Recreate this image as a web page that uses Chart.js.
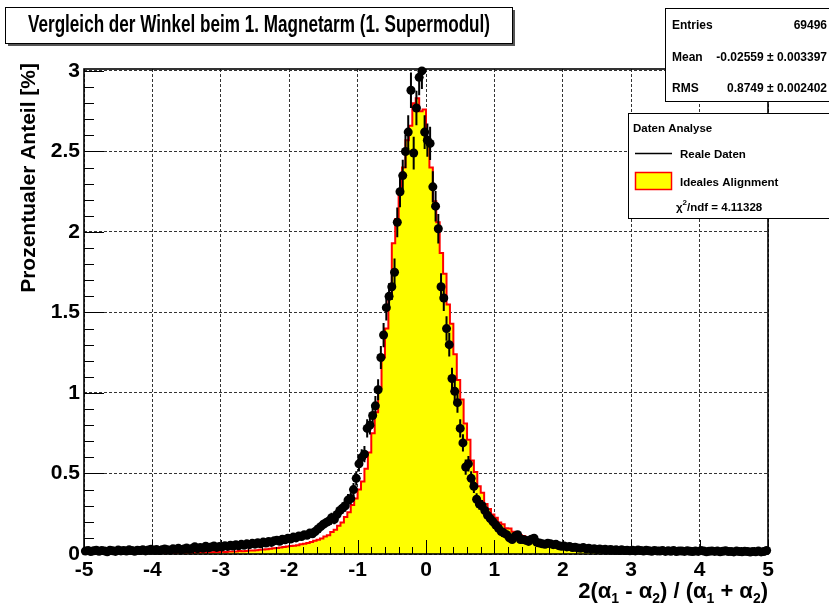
<!DOCTYPE html>
<html>
<head>
<meta charset="utf-8">
<script src="https://cdn.jsdelivr.net/npm/chart.js@4.4.0/dist/chart.umd.min.js"></script>
<style>
  html, body { margin: 0; padding: 0; background: #fff; }
  canvas { display: block; }
</style>
</head>
<body>
<canvas id="myChart" width="829" height="607"></canvas>
<script>
const FONT = '"Liberation Sans", Arial, sans-serif';

const xMin = -5, xMax = 5;
const xTicks = [-5, -4, -3, -2, -1, 0, 1, 2, 3, 4, 5];
const yTicks = [0, 0.5, 1, 1.5, 2, 2.5, 3];
const yMax = 3.012;

// simulated ("ideal alignment") histogram, 0.05 wide bins from -5 to 5, in percent
const idealBinWidth = 0.05;
const idealPct = [
  0.004,0.005,0.003,0.006,0.004,0.005,0.004,0.003,0.006,0.005,
  0.005,0.004,0.006,0.005,0.004,0.006,0.005,0.007,0.005,0.006,
  0.006,0.007,0.005,0.008,0.006,0.007,0.008,0.006,0.009,0.007,
  0.008,0.009,0.007,0.010,0.009,0.011,0.010,0.012,0.011,0.013,
  0.012,0.014,0.013,0.015,0.016,0.015,0.018,0.017,0.019,0.021,
  0.022,0.024,0.026,0.028,0.030,0.033,0.036,0.038,0.041,0.044,
  0.046,0.049,0.052,0.055,0.060,0.064,0.069,0.075,0.082,0.088,
  0.097,0.108,0.116,0.136,0.150,0.175,0.195,0.230,0.260,0.305,
  0.345,0.400,0.450,0.530,0.630,0.750,0.880,1.030,1.220,1.400,
  1.600,1.930,2.080,2.260,2.400,2.570,2.660,2.800,2.830,2.750,
  2.760,2.580,2.400,2.190,2.060,1.870,1.740,1.550,1.430,1.240,
  1.080,0.960,0.810,0.710,0.580,0.510,0.420,0.380,0.310,0.280,
  0.245,0.225,0.195,0.185,0.160,0.158,0.138,0.132,0.118,0.112,
  0.098,0.094,0.083,0.082,0.073,0.071,0.064,0.063,0.057,0.055,
  0.050,0.047,0.043,0.040,0.036,0.033,0.031,0.028,0.026,0.024,
  0.022,0.020,0.019,0.017,0.016,0.015,0.014,0.013,0.012,0.012,
  0.011,0.010,0.010,0.009,0.009,0.008,0.008,0.008,0.007,0.007,
  0.007,0.006,0.007,0.006,0.006,0.005,0.006,0.005,0.005,0.006,
  0.005,0.004,0.005,0.005,0.004,0.005,0.004,0.004,0.005,0.004,
  0.004,0.004,0.003,0.004,0.004,0.003,0.004,0.003,0.004,0.003
];

// measured angles, 0.04 wide bins from -5 to 5, in percent
const realBinWidth = 0.04;
const realPct = [
  0.018,0.022,0.015,0.020,0.024,0.017,0.021,0.019,0.014,0.023,
  0.020,0.016,0.025,0.019,0.022,0.018,0.026,0.021,0.017,0.024,
  0.022,0.027,0.019,0.025,0.030,0.023,0.028,0.021,0.026,0.031,
  0.027,0.024,0.032,0.029,0.035,0.026,0.031,0.038,0.030,0.034,
  0.045,0.033,0.040,0.036,0.048,0.039,0.043,0.050,0.041,0.046,
  0.044,0.052,0.047,0.055,0.049,0.058,0.051,0.060,0.054,0.063,
  0.058,0.066,0.061,0.070,0.064,0.074,0.068,0.078,0.072,0.082,
  0.085,0.079,0.092,0.088,0.098,0.093,0.105,0.100,0.112,0.108,
  0.120,0.116,0.130,0.126,0.140,0.155,0.170,0.185,0.195,0.205,
  0.225,0.215,0.245,0.270,0.285,0.300,0.335,0.345,0.400,0.470,
  0.56,0.60,0.62,0.78,0.80,0.86,0.92,1.02,1.22,1.36,
  1.53,1.60,1.66,1.75,2.06,2.25,2.35,2.50,2.62,2.88,
  2.49,2.77,2.96,3.00,2.62,2.57,2.55,2.28,2.16,2.02,
  1.66,1.59,1.40,1.30,1.09,1.01,0.94,0.78,0.69,0.54,
  0.56,0.47,0.42,0.34,0.31,0.30,0.27,0.24,0.22,0.20,
  0.18,0.16,0.14,0.13,0.12,0.10,0.09,0.11,0.12,0.09,
  0.090,0.085,0.078,0.092,0.098,0.072,0.068,0.064,0.060,0.066,
  0.063,0.058,0.060,0.052,0.048,0.050,0.044,0.046,0.040,0.042,
  0.038,0.035,0.040,0.032,0.036,0.030,0.033,0.028,0.031,0.027,
  0.029,0.025,0.028,0.023,0.026,0.022,0.027,0.021,0.024,0.020,
  0.023,0.019,0.025,0.021,0.018,0.024,0.020,0.017,0.022,0.019,
  0.018,0.021,0.016,0.020,0.017,0.022,0.015,0.019,0.018,0.016,
  0.020,0.017,0.015,0.019,0.016,0.021,0.018,0.014,0.017,0.019,
  0.016,0.018,0.014,0.017,0.020,0.015,0.016,0.013,0.018,0.015,
  0.014,0.017,0.015,0.012,0.016,0.014,0.018,0.013,0.015,0.022
];
// number of measured entries, used for the Poisson error bars
const realEntries = 24000;

const titleText = 'Vergleich der Winkel beim 1. Magnetarm (1. Supermodul)';
const yTitle = 'Prozentualer Anteil [%]';
const statsRows = [
  ['Entries', '69496'],
  ['Mean', '-0.02559 \u00b1 0.003397'],
  ['RMS', '0.8749 \u00b1 0.002402']
];
const legendHeader = 'Daten Analyse';
const realLabel = 'Reale Daten';
const idealLabel = 'Ideales Alignment';
const chi2ndf = '4.11328';

// histogram as a step line: one point per left bin edge plus the closing edge
const idealSteps = idealPct.map((v, i) => ({ x: xMin + i * idealBinWidth, y: v }));
idealSteps.push({ x: xMax, y: idealPct[idealPct.length - 1] });

const realPoints = realPct.map((v, i) => ({
  x: xMin + (i + 0.5) * realBinWidth,
  y: v,
  err: Math.sqrt(v * 100 / realEntries)
}));

const bold = size => `bold ${size}px ${FONT}`;

const errorBars = {
  id: 'errorBars',
  beforeDatasetDraw(chart, args) {
    if (args.index !== 1) return;
    const { ctx, chartArea: a, scales: { x, y } } = chart;
    ctx.save();
    ctx.beginPath();
    ctx.rect(a.left, a.top, a.width, a.height);
    ctx.clip();
    ctx.strokeStyle = '#000';
    ctx.lineWidth = 2;
    ctx.beginPath();
    realPoints.forEach(p => {
      const px = x.getPixelForValue(p.x);
      ctx.moveTo(px, y.getPixelForValue(p.y - p.err));
      ctx.lineTo(px, y.getPixelForValue(p.y + p.err));
    });
    ctx.stroke();
    ctx.restore();
  }
};

// frame and inward tick marks
const rootFrame = {
  id: 'rootFrame',
  afterDatasetsDraw(chart) {
    const { ctx, chartArea: a, scales: { x, y } } = chart;
    ctx.save();
    ctx.strokeStyle = '#000';
    ctx.lineWidth = 1;
    ctx.beginPath();
    for (let k = 0; k <= 50; k++) {
      const px = Math.round(x.getPixelForValue(xMin + k * 0.2)) + 0.5;
      const len = k % 5 === 0 ? 14 : 7;
      ctx.moveTo(px, a.bottom);
      ctx.lineTo(px, a.bottom - len);
    }
    for (let k = 0; k <= 30; k++) {
      const py = Math.round(y.getPixelForValue(k * 0.1)) + 0.5;
      const len = k % 5 === 0 ? 20 : 10;
      ctx.moveTo(a.left, py);
      ctx.lineTo(a.left + len, py);
    }
    ctx.stroke();
    ctx.lineWidth = 1.6;
    ctx.strokeRect(a.left, a.top, a.width, a.height);
    ctx.restore();
  }
};

function pave(ctx, x, y, w, h, shadow) {
  if (shadow) {
    ctx.fillStyle = '#555';
    ctx.fillRect(x + shadow, y + shadow, w, h);
  }
  ctx.fillStyle = '#fff';
  ctx.fillRect(x, y, w, h);
  ctx.strokeStyle = '#000';
  ctx.lineWidth = 1;
  ctx.strokeRect(x + 0.5, y + 0.5, w, h);
}

// title, statistics box, legend and axis titles
const rootPaves = {
  id: 'rootPaves',
  afterDraw(chart) {
    const { ctx, chartArea: a } = chart;
    ctx.save();

    pave(ctx, 5, 7, 507, 36, 3);
    ctx.font = bold(23);
    const tw = ctx.measureText(titleText).width;
    ctx.save();
    ctx.translate(259, 32);
    ctx.scale(462 / tw, 1);
    ctx.fillStyle = '#000';
    ctx.textAlign = 'center';
    ctx.textBaseline = 'alphabetic';
    ctx.fillText(titleText, 0, 0);
    ctx.restore();

    pave(ctx, 665, 8, 170, 93, 0);
    ctx.fillStyle = '#000';
    ctx.font = bold(12);
    ctx.textBaseline = 'alphabetic';
    statsRows.forEach(([k, v], i) => {
      const base = 29 + i * 31.5;
      ctx.textAlign = 'left';
      ctx.fillText(k, 672, base);
      ctx.textAlign = 'right';
      ctx.fillText(v, 827, base);
    });

    pave(ctx, 628, 113, 210, 105, 0);
    ctx.fillStyle = '#000';
    ctx.textAlign = 'left';
    ctx.font = bold(11.5);
    ctx.fillText(legendHeader, 633, 132);
    ctx.beginPath();
    ctx.lineWidth = 1.5;
    ctx.moveTo(635, 153.5);
    ctx.lineTo(672, 153.5);
    ctx.stroke();
    ctx.fillText(realLabel, 680, 158);
    ctx.fillStyle = '#ffff00';
    ctx.fillRect(635, 172, 37, 18);
    ctx.strokeStyle = '#ff0000';
    ctx.lineWidth = 1.5;
    ctx.strokeRect(635.5, 172.5, 36, 17);
    ctx.fillStyle = '#000';
    ctx.fillText(idealLabel, 680, 186);
    let cx = 676;
    ctx.fillText('\u03c7', cx, 211);
    cx += ctx.measureText('\u03c7').width;
    ctx.font = bold(8);
    ctx.fillText('2', cx, 205);
    cx += ctx.measureText('2').width;
    ctx.font = bold(11.5);
    ctx.fillText('/ndf = ' + chi2ndf, cx, 211);

    // y axis title, right-aligned to the top of the frame
    ctx.save();
    ctx.translate(35, 63);
    ctx.rotate(-Math.PI / 2);
    ctx.font = bold(21);
    ctx.textAlign = 'right';
    ctx.textBaseline = 'alphabetic';
    ctx.fillText(yTitle, 0, 0);
    ctx.restore();

    // x axis title with subscripts, right-aligned to the frame
    const parts = [['2(\u03b1'], ['1', 1], [' - \u03b1'], ['2', 1], [') / (\u03b1'], ['1', 1], [' + \u03b1'], ['2', 1], [')']];
    const big = bold(22), small = bold(14);
    let total = 0;
    parts.forEach(([t, sub]) => { ctx.font = sub ? small : big; total += ctx.measureText(t).width; });
    let px = a.right - total;
    ctx.textAlign = 'left';
    parts.forEach(([t, sub]) => {
      ctx.font = sub ? small : big;
      ctx.fillText(t, px, sub ? 603 : 598);
      px += ctx.measureText(t).width;
    });

    ctx.restore();
  }
};

const tickFont = { family: FONT, size: 21, weight: 'bold' };
const plainLabel = v => `${v}`;

new Chart(document.getElementById('myChart'), {
  type: 'scatter',
  data: {
    datasets: [{
      type: 'line',
      label: idealLabel,
      data: idealSteps,
      stepped: 'after',
      fill: 'origin',
      backgroundColor: '#ffff00',
      borderColor: '#ff0000',
      borderWidth: 2,
      pointRadius: 0,
      pointHitRadius: 0,
      order: 2
    }, {
      label: realLabel,
      data: realPoints,
      pointRadius: 4.5,
      backgroundColor: '#000',
      borderWidth: 0,
      clip: false,
      order: 1
    }]
  },
  options: {
    responsive: false,
    animation: false,
    devicePixelRatio: 1,
    layout: { padding: { top: 69, right: 61, left: 0, bottom: 0 } },
    plugins: {
      legend: { display: false },
      tooltip: { enabled: false }
    },
    scales: {
      x: {
        type: 'linear',
        min: xMin,
        max: xMax,
        afterBuildTicks: s => { s.ticks = xTicks.map(v => ({ value: v })); },
        afterFit: s => { s.height = 53; },
        ticks: { font: tickFont, color: '#000', padding: 4, maxRotation: 0, autoSkip: false, callback: plainLabel },
        grid: { color: '#333', lineWidth: 1, drawTicks: false },
        border: { display: false, dash: [3, 2] }
      },
      y: {
        type: 'linear',
        min: 0,
        max: yMax,
        afterBuildTicks: s => { s.ticks = yTicks.map(v => ({ value: v })); },
        afterFit: s => { s.width = 84; },
        ticks: { font: tickFont, color: '#000', padding: 4, autoSkip: false, callback: plainLabel },
        grid: { color: '#333', lineWidth: 1, drawTicks: false },
        border: { display: false, dash: [3, 2] }
      }
    }
  },
  plugins: [errorBars, rootFrame, rootPaves]
});
</script>
</body>
</html>
